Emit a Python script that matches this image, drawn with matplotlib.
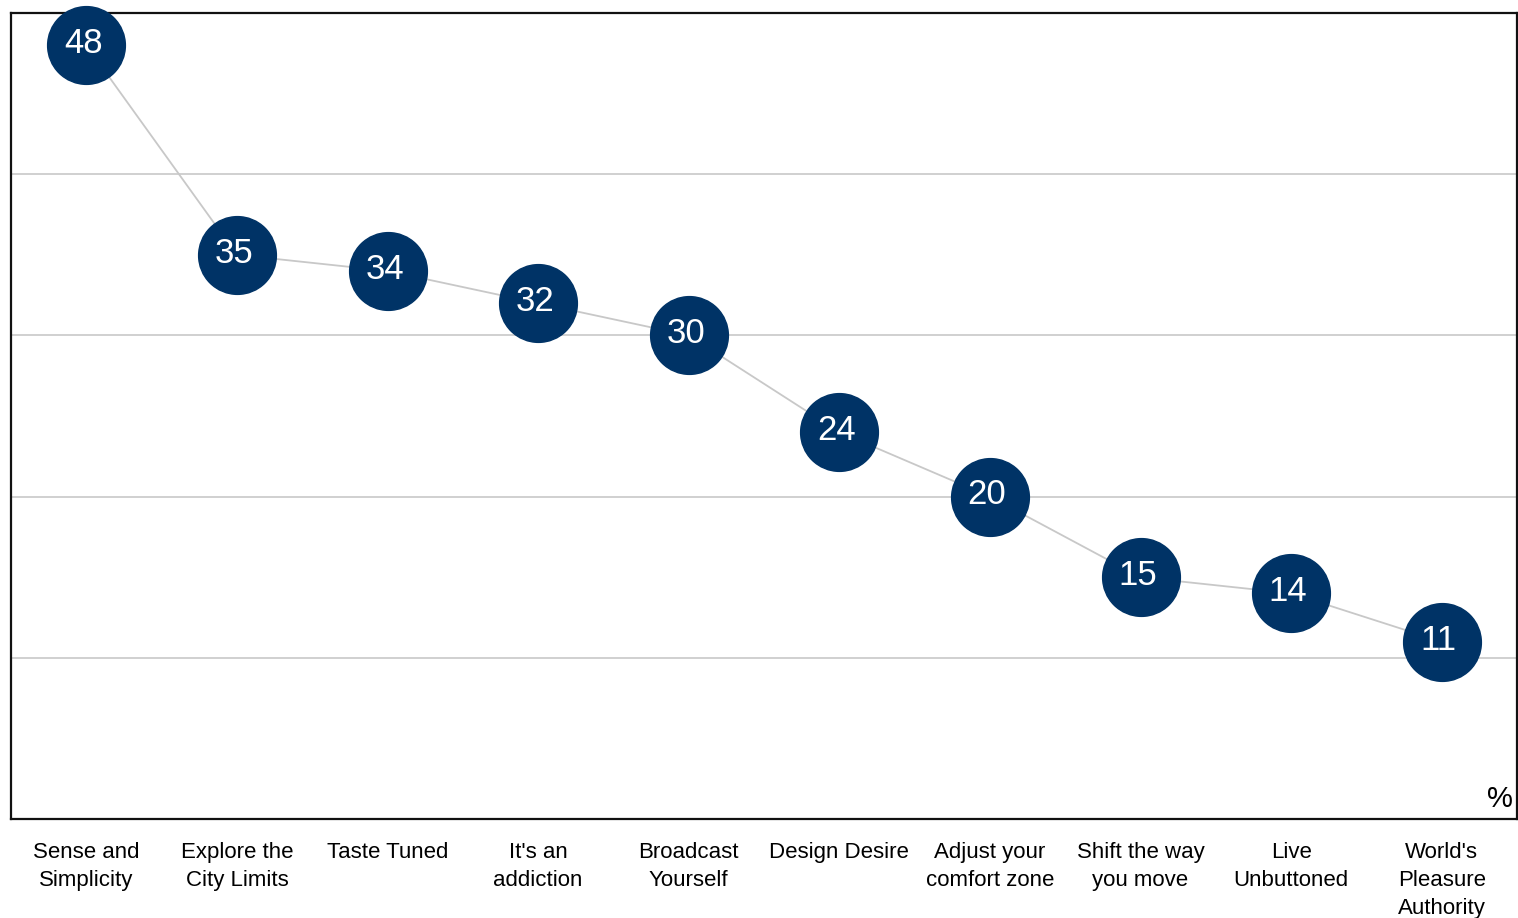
import matplotlib.pyplot as plt

plt.rcParams['font.family'] = ['Liberation Sans', 'DejaVu Sans']

categories = ["Sense and\nSimplicity", "Explore the\nCity Limits", "Taste Tuned",
              "It's an\naddiction", "Broadcast\nYourself", "Design Desire",
              "Adjust your\ncomfort zone", "Shift the way\nyou move",
              "Live\nUnbuttoned", "World's\nPleasure\nAuthority"]
values = [48, 35, 34, 32, 30, 24, 20, 15, 14, 11]

fig = plt.figure(figsize=(15.18, 9.18), dpi=100)
ax = fig.add_axes([11 / 1518, 99 / 918, 1506 / 1518, 806 / 918])

x = list(range(len(values)))
ax.plot(x, values, color="#c8c8c8", linewidth=1.3, zorder=2)
ax.plot(x, values, linestyle="none", marker="o", markersize=56,
        markerfacecolor="#003366", markeredgecolor="#003366", zorder=3, clip_on=False)
for xi, v in zip(x, values):
    ax.text(xi - 0.02, v + 0.1, str(v), color="white", fontsize=25,
            ha="center", va="center", zorder=4)

ax.set_xlim(-0.5, len(values) - 0.5)
ax.set_ylim(0, 50)
ax.set_yticks([10, 20, 30, 40])
ax.yaxis.grid(True, color="#c8c8c8", linewidth=1.2)
ax.set_axisbelow(True)
ax.tick_params(axis="y", left=False, labelleft=False)
ax.set_xticks(x)
ax.set_xticklabels(categories, fontsize=16, linespacing=1.45)
ax.tick_params(axis="x", bottom=False, pad=13)

for s in ax.spines.values():
    s.set_linewidth(1.6)
    s.set_color("#111111")

ax.text(0.997, 0.008, "%", transform=ax.transAxes, fontsize=21,
        ha="right", va="bottom")

fig.savefig("out.png", dpi=100)
